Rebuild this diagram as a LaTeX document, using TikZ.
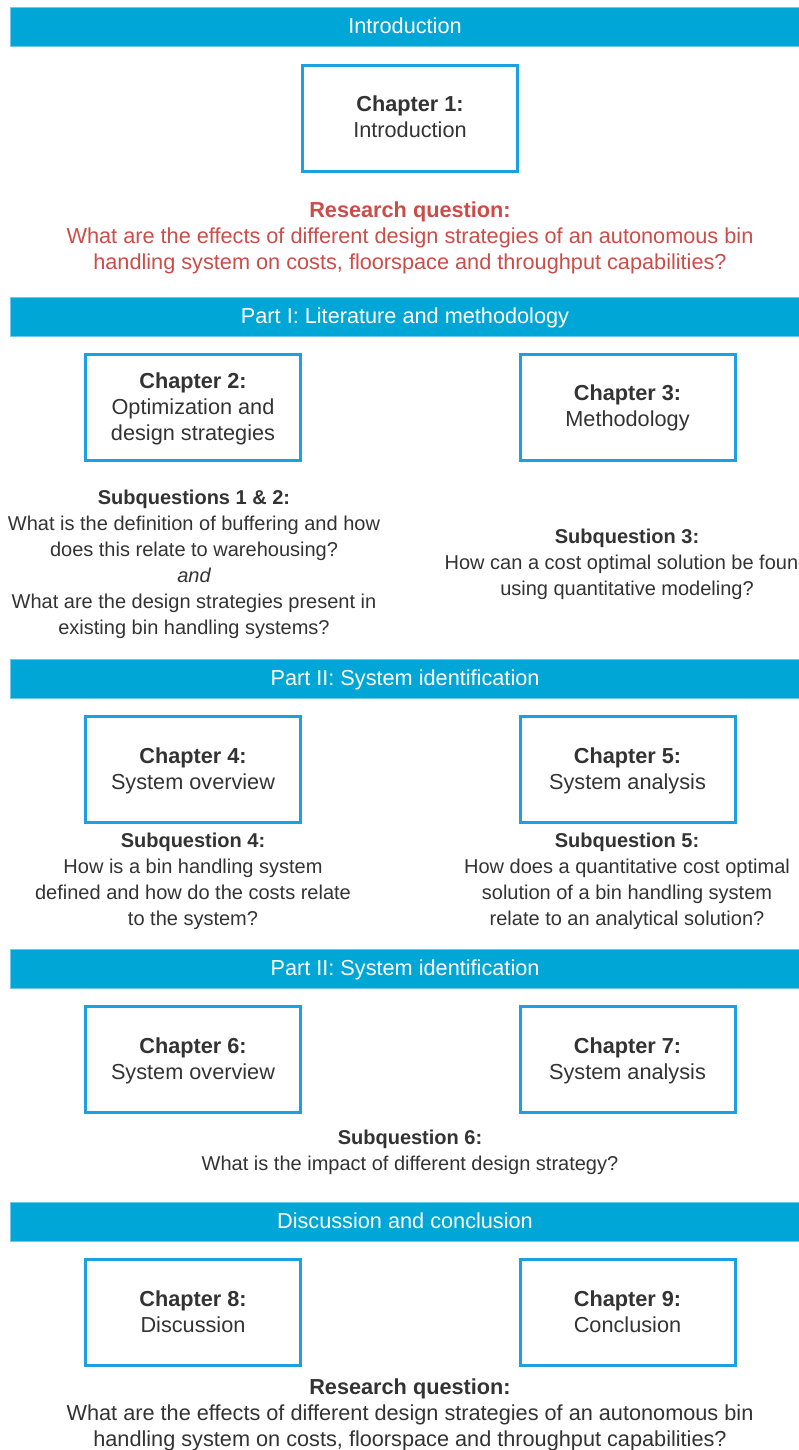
\documentclass[tikz,border=0pt]{standalone}
\usepackage{fontspec}
\setmainfont{Liberation Sans}
\definecolor{barfill}{RGB}{0,166,214}
\definecolor{barline}{RGB}{110,200,235}
\definecolor{boxline}{RGB}{27,161,226}
\definecolor{ink}{RGB}{51,51,51}
\definecolor{rq}{RGB}{204,77,72}
\newcommand\fs{\fontsize{21.7}{26}\selectfont}
\newcommand\fsq{\fontsize{20}{26}\selectfont}
\tikzset{
  bar/.style={fill=barfill, draw=barline, line width=1pt, minimum width=790pt,
    minimum height=39pt, inner sep=0pt, text=white, font=\fs,
    text height=16pt, text depth=4pt},
  chapter/.style={draw=boxline, line width=3pt, minimum width=215pt,
    minimum height=106pt, align=center, font=\fs, text=ink, inner sep=0pt},
  % the node's base is its last line; these place the text block in the box
  twoline/.style={text height=60pt, text depth=21pt},
  threeline/.style={text height=80pt, text depth=14pt},
  note/.style={align=center, font=\fsq, text=ink, anchor=base, inner sep=0pt},
  question/.style={note, font=\fs},
}
\begin{document}
\begin{tikzpicture}[x=1pt, y=-1pt]
\fill[white] (0,0) rectangle (799,1450);
\useasboundingbox (0,0) rectangle (799,1450);

% Introduction
\node[bar] (hintro) at (405,27.5) {Introduction};
\node[chapter, twoline] (ch1) at (410,118.5) {\textbf{Chapter 1:}\\Introduction};
\node[question, text=rq] (rqtop) at (410,269) {\textbf{Research question:}\\What are the effects of different design strategies of an autonomous bin\\handling system on costs, floorspace and throughput capabilities?};

% Part I
\node[bar] (hpart1) at (405,317) {Part I: Literature and methodology};
\node[chapter, threeline] (ch2) at (193,407) {\textbf{Chapter 2:}\\Optimization and\\design strategies};
\node[chapter, twoline] (ch3) at (627.5,407) {\textbf{Chapter 3:}\\Methodology};
\node[note] (sq12) at (194,634) {\textbf{Subquestions 1 \& 2:}\\What is the definition of buffering and how\\does this relate to warehousing?\\{\itshape and}\\What are the design strategies present in\\existing bin handling systems?};
\node[note] (sq3) at (627,595) {\textbf{Subquestion 3:}\\How can a cost optimal solution be found\\using quantitative modeling?};

% Part II
\node[bar] (hpart2) at (405,679) {Part II: System identification};
\node[chapter, twoline] (ch4) at (193,769.5) {\textbf{Chapter 4:}\\System overview};
\node[chapter, twoline] (ch5) at (627.5,769.5) {\textbf{Chapter 5:}\\System analysis};
\node[note] (sq4) at (193,925) {\textbf{Subquestion 4:}\\How is a bin handling system\\defined and how do the costs relate\\to the system?};
\node[note] (sq5) at (627,925) {\textbf{Subquestion 5:}\\How does a quantitative cost optimal\\solution of a bin handling system\\relate to an analytical solution?};

% Part II (continued)
\node[bar] (hpart3) at (405,969) {Part II: System identification};
\node[chapter, twoline] (ch6) at (193,1059.5) {\textbf{Chapter 6:}\\System overview};
\node[chapter, twoline] (ch7) at (627.5,1059.5) {\textbf{Chapter 7:}\\System analysis};
\node[note] (sq6) at (410,1170) {\textbf{Subquestion 6:}\\What is the impact of different design strategy?};

% Discussion and conclusion
\node[bar] (hdisc) at (405,1222) {Discussion and conclusion};
\node[chapter, twoline] (ch8) at (193,1312.5) {\textbf{Chapter 8:}\\Discussion};
\node[chapter, twoline] (ch9) at (627.5,1312.5) {\textbf{Chapter 9:}\\Conclusion};
\node[question] (rqbot) at (410,1446) {\textbf{Research question:}\\What are the effects of different design strategies of an autonomous bin\\handling system on costs, floorspace and throughput capabilities?};
\end{tikzpicture}
\end{document}
